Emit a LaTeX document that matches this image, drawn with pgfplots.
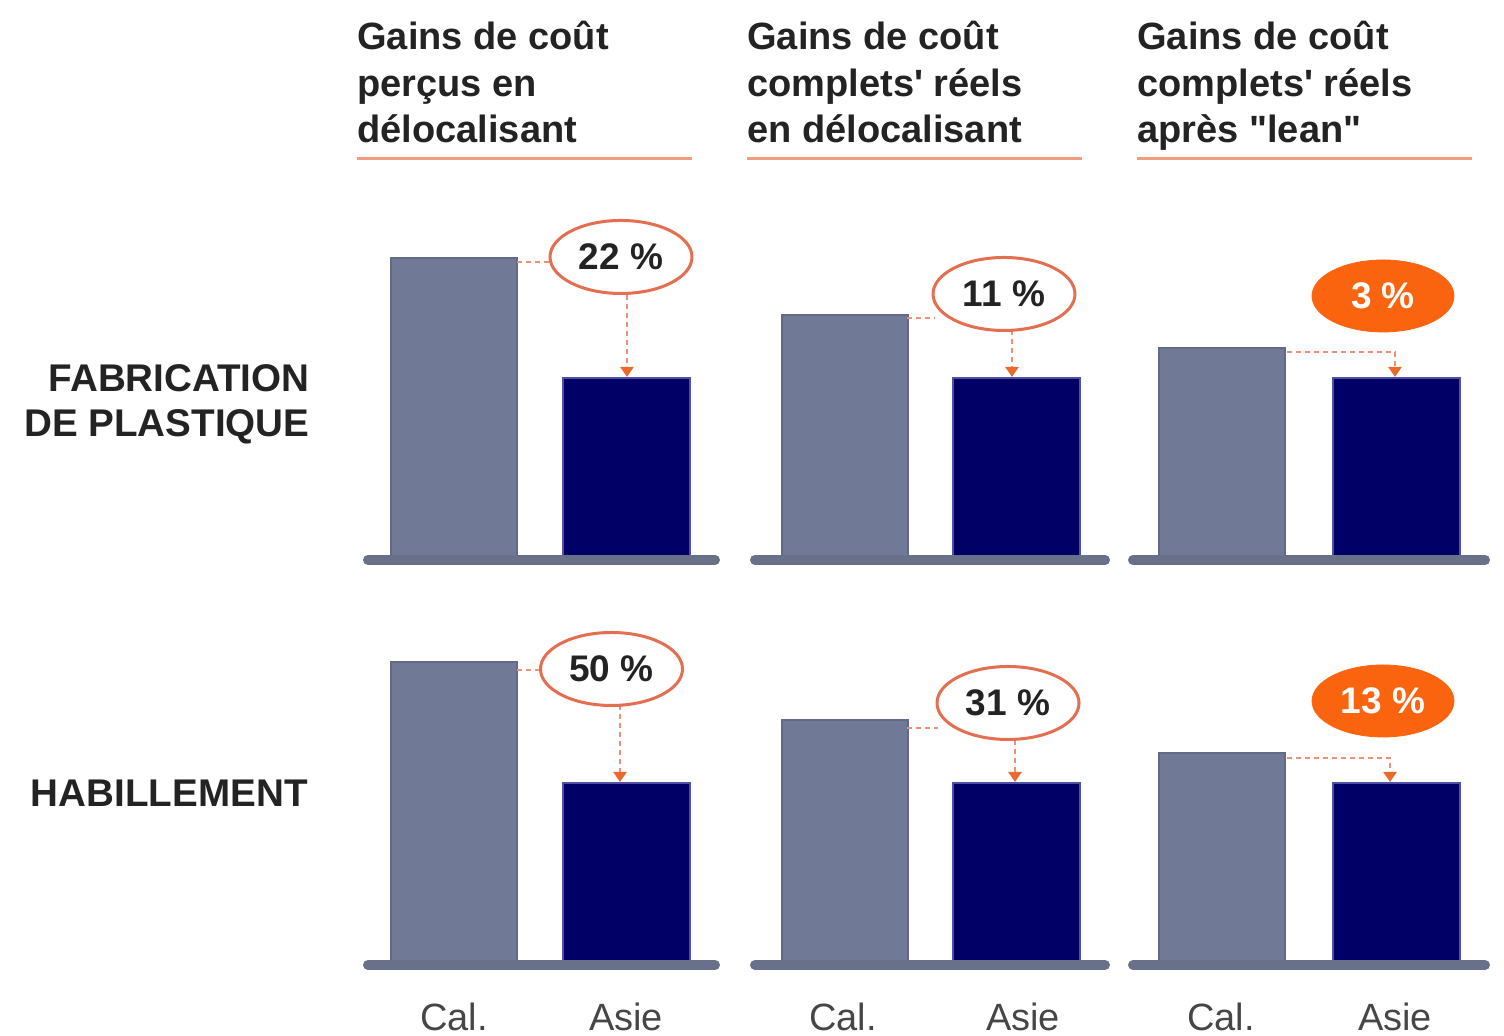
\documentclass[border=0pt]{standalone}
\usepackage{fontspec}
\setmainfont{Liberation Sans}[Ligatures=TeXOff]
\usepackage{pgfplots}
\pgfplotsset{compat=1.18}
\usetikzlibrary{shapes.geometric,arrows.meta}
\definecolor{calc}{RGB}{112,121,150}
\definecolor{caledge}{RGB}{98,106,134}
\definecolor{asie}{RGB}{0,0,102}
\definecolor{asieedge}{RGB}{80,80,165}
\definecolor{basec}{RGB}{105,112,138}
\definecolor{ellc}{RGB}{228,110,80}
\definecolor{orfill}{RGB}{250,100,15}
\definecolor{ulc}{RGB}{242,155,125}
\definecolor{dashc}{RGB}{238,145,115}
\definecolor{arrc}{RGB}{236,105,45}
\definecolor{txt}{RGB}{35,35,35}
\definecolor{labc}{RGB}{70,70,70}
\pgfplotsset{panel/.style={scale only axis, width=752pt, height=518pt,
  xmin=0, xmax=1504, hide axis, clip=false, at={(0pt,0pt)}, anchor=south west}}
\tikzset{
  pct/.style={ellipse, draw=ellc, line width=1.5pt, fill=white, minimum width=71pt,
    minimum height=36.5pt, inner sep=0pt, text=txt, font=\bfseries\fontsize{18.5}{20}\selectfont},
  pctf/.style={ellipse, draw=orfill, fill=orfill, minimum width=71pt,
    minimum height=36pt, inner sep=0pt, text=white, font=\bfseries\fontsize{18.5}{20}\selectfont},
  ttl/.style={anchor=base west, inner sep=0pt, text=txt, font=\bfseries\fontsize{19}{23}\selectfont},
  rowl/.style={anchor=base east, inner sep=0pt, text=txt, font=\bfseries\fontsize{19.3}{22}\selectfont},
  catl/.style={anchor=base, inner sep=0pt, text=labc, font=\fontsize{19}{23}\selectfont}
}
\pgfplotsset{
  conn/.style={dashc, line width=1.2pt, dash pattern=on 2.5pt off 2pt},
  connarr/.style={dashc, line width=1.2pt, dash pattern=on 2.5pt off 2pt,
    -{Triangle[length=5pt,width=6.5pt,color=arrc]}},
  base/.style={basec, line width=5pt, line cap=round},
  calbar/.style={ybar, bar width=126, bar shift=0pt, fill=calc, draw=caledge, line width=1pt},
  asiebar/.style={ybar, bar width=127, bar shift=0pt, fill=asie, draw=asieedge, line width=1pt}
}
\begin{document}
\begin{tikzpicture}
\useasboundingbox (0,0) rectangle (752pt,518pt);
% ---------------- Row 1 : FABRICATION DE PLASTIQUE ----------------
\begin{axis}[panel, ymin=-479, ymax=557]
  \addplot[calbar] coordinates {(453.5,299) (844.5,242) (1221.5,209)};
  \addplot[asiebar] coordinates {(626.5,179) (1016.5,179) (1396,179)};
  \addplot[base] coordinates {(368,-3) (715,-3)};
  \addplot[base] coordinates {(755,-3) (1105,-3)};
  \addplot[base] coordinates {(1133,-3) (1485,-3)};
  % connectors
  \addplot[conn] coordinates {(517,295) (552,295)};
  \addplot[connarr] coordinates {(627,262) (627,180)};
  \addplot[conn] coordinates {(907,239) (935,239)};
  \addplot[connarr] coordinates {(1012,227) (1012,180)};
  \addplot[connarr] coordinates {(1287,205) (1395,205) (1395,180)};
  % labels
  \node[pct] at (axis cs:621,300) {22 \%};
  \node[pct] at (axis cs:1004,263) {11 \%};
  \node[pctf] at (axis cs:1383,261) {3 \%};
  % titles
  \node[ttl] at (axis cs:357,507) {Gains de coût};
  \node[ttl] at (axis cs:357,460) {perçus en};
  \node[ttl] at (axis cs:357,414) {délocalisant};
  \node[ttl] at (axis cs:747,507) {Gains de coût};
  \node[ttl] at (axis cs:747,460) {complets' réels};
  \node[ttl] at (axis cs:747,414) {en délocalisant};
  \node[ttl] at (axis cs:1137,507) {Gains de coût};
  \node[ttl] at (axis cs:1137,460) {complets' réels};
  \node[ttl] at (axis cs:1137,414) {après "lean"};
  \draw[ulc, line width=1.5pt] (axis cs:357,398) -- (axis cs:692,398);
  \draw[ulc, line width=1.5pt] (axis cs:747,398) -- (axis cs:1082,398);
  \draw[ulc, line width=1.5pt] (axis cs:1137,398) -- (axis cs:1472,398);
  % row label
  \node[rowl] at (axis cs:310,165) {FABRICATION};
  \node[rowl] at (axis cs:310,120) {DE PLASTIQUE};
\end{axis}
% ---------------- Row 2 : HABILLEMENT ----------------
\begin{axis}[panel, ymin=-75, ymax=961]
  \addplot[calbar] coordinates {(453.5,299) (844.5,241) (1221.5,208)};
  \addplot[asiebar] coordinates {(626.5,178) (1016.5,178) (1396,178)};
  \addplot[base] coordinates {(368,-4) (715,-4)};
  \addplot[base] coordinates {(755,-4) (1105,-4)};
  \addplot[base] coordinates {(1133,-4) (1485,-4)};
  \addplot[conn] coordinates {(517,291) (542,291)};
  \addplot[connarr] coordinates {(620,256) (620,179)};
  \addplot[conn] coordinates {(907,233) (938,233)};
  \addplot[connarr] coordinates {(1015,221) (1015,179)};
  \addplot[connarr] coordinates {(1287,203) (1390,203) (1390,179)};
  \node[pct] at (axis cs:611.5,292) {50 \%};
  \node[pct] at (axis cs:1008,258) {31 \%};
  \node[pctf] at (axis cs:1383,260) {13 \%};
  \node[rowl] at (axis cs:308,154) {HABILLEMENT};
  \node[catl] at (axis cs:454,-70) {Cal.};
  \node[catl] at (axis cs:626,-70) {Asie};
  \node[catl] at (axis cs:843,-70) {Cal.};
  \node[catl] at (axis cs:1023,-70) {Asie};
  \node[catl] at (axis cs:1221,-70) {Cal.};
  \node[catl] at (axis cs:1395,-70) {Asie};
\end{axis}
\end{tikzpicture}
\end{document}
